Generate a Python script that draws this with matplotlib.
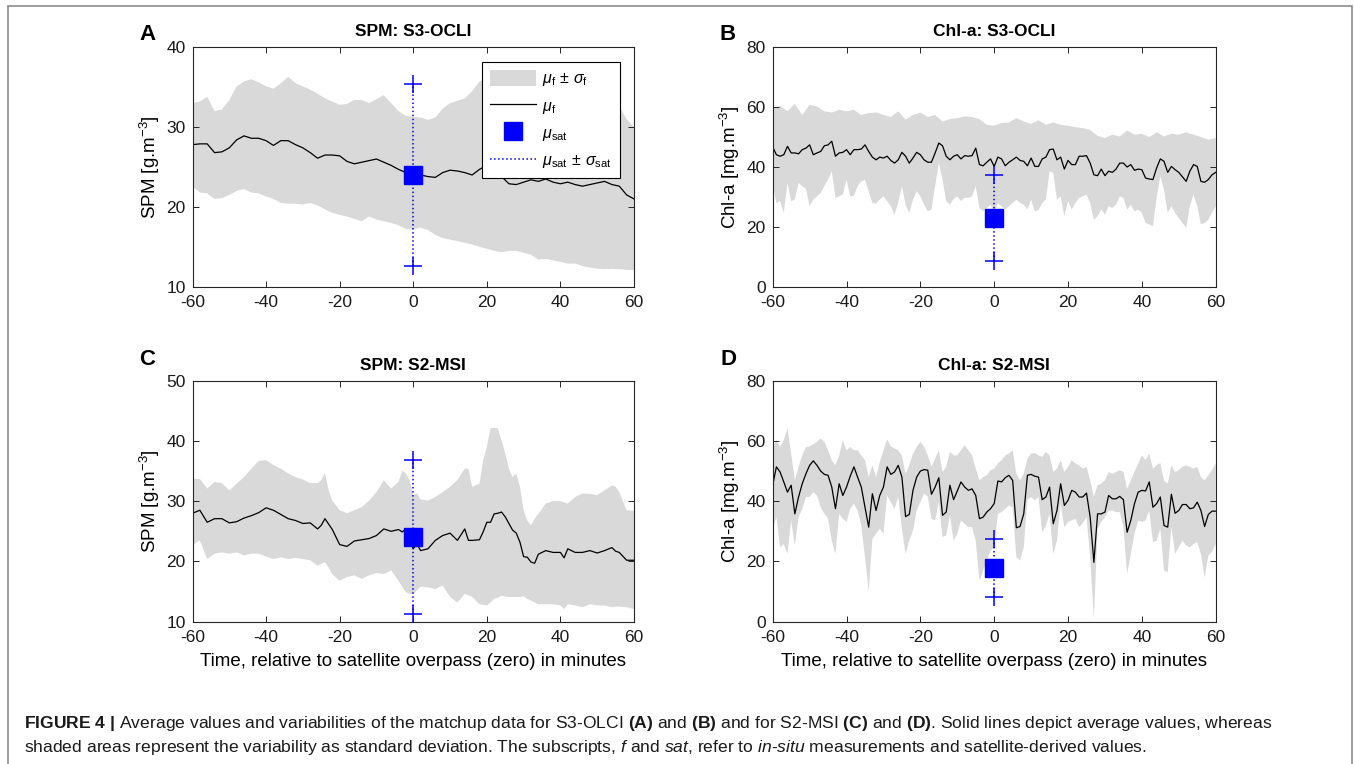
import numpy as np
import matplotlib
matplotlib.use('Agg')
import matplotlib.pyplot as plt
from matplotlib.patches import Patch, Rectangle
from matplotlib.lines import Line2D

plt.rcParams['font.family'] = ['Liberation Sans', 'DejaVu Sans']
plt.rcParams['mathtext.fontset'] = 'custom'
plt.rcParams['mathtext.rm'] = 'Liberation Sans'
plt.rcParams['mathtext.it'] = 'Liberation Sans:italic'
plt.rcParams['mathtext.bf'] = 'Liberation Sans:bold'
plt.rcParams['axes.unicode_minus'] = False

# ---------------- data ----------------
sat_time = 0

# A: SPM, S3-OLCI  (2-minute steps)
t_a = np.arange(-60, 61, 2)
mean_a = [27.8, 27.9, 27.9, 26.8, 26.9, 27.4, 28.4, 28.9, 28.6, 28.6,
          28.3, 27.7, 28.3, 28.3, 27.8, 27.4, 26.8, 26.1, 26.5, 26.5,
          26.4, 25.7, 25.4, 25.6, 25.8, 26.0, 25.6, 25.2, 24.7, 24.3,
          24.0, 24.0, 23.8, 23.7, 24.3, 24.6, 24.5, 24.3, 24.0, 24.7,
          25.2, 25.0, 23.8, 22.9, 22.8, 23.1, 23.4, 23.2, 23.5, 23.1,
          22.9, 23.1, 22.8, 22.6, 22.8, 23.0, 23.2, 22.8, 22.6, 21.5, 21.0]
upper_a = [33.0, 33.2, 33.8, 32.0, 32.2, 33.4, 35.1, 35.7, 36.0, 35.6,
           35.1, 34.8, 35.5, 36.3, 35.5, 35.1, 34.7, 34.2, 33.6, 33.2,
           32.8, 32.9, 33.4, 33.4, 33.0, 33.5, 34.0, 33.0, 32.0, 31.4,
           31.3, 31.2, 30.9, 31.2, 32.3, 33.0, 33.3, 33.6, 34.5, 35.7,
           36.0, 35.4, 35.9, 35.1, 34.6, 35.0, 34.2, 34.5, 33.8, 34.1,
           33.6, 33.9, 33.2, 33.5, 33.0, 33.3, 32.9, 33.2, 32.6, 31.0, 30.0]
lower_a = [22.6, 21.8, 21.7, 21.0, 21.1, 21.5, 22.0, 22.25, 21.8, 21.7,
           21.3, 21.0, 20.5, 20.4, 20.4, 20.3, 20.5, 20.2, 19.7, 19.25,
           19.0, 18.8, 18.5, 18.2, 18.8, 18.4, 18.2, 18.0, 17.7, 17.25,
           17.2, 17.4, 17.1, 16.5, 16.1, 15.9, 15.7, 15.5, 15.3, 15.0,
           14.75, 14.5, 14.3, 14.5, 14.5, 14.25, 14.0, 13.4, 13.5, 13.3,
           13.1, 12.9, 12.9, 12.6, 12.4, 12.25, 12.2, 12.25, 12.2, 12.1, 12.1]
sat_a = (24.0, 11.4)

# B: Chl-a, S3-OLCI (1-minute steps, upper bound every 2 minutes)
t_b = np.arange(-60, 61)
t_b_up = np.arange(-60, 61, 2)
mean_b = [46.7, 44.1, 43.6, 44.1, 46.9, 44.7, 44.7, 44.4, 45.8, 46.3,
          47.4, 44.1, 44.7, 45.2, 47.1, 47.4, 48.6, 43.6, 44.7, 44.9,
          45.8, 44.1, 45.8, 45.8, 46.0, 47.4, 45.2, 43.3, 42.4, 43.3,
          43.0, 43.6, 42.2, 41.3, 42.4, 44.9, 43.6, 41.3, 43.0, 44.9,
          44.1, 42.4, 41.6, 41.6, 44.7, 48.0, 47.1, 43.6, 42.4, 43.6,
          44.1, 42.7, 43.8, 43.6, 43.8, 46.3, 40.8, 40.4, 41.6, 42.7,
          40.2, 43.3, 42.7, 40.4, 41.6, 42.4, 43.3, 42.2, 41.9, 40.4,
          43.0, 40.2, 40.2, 42.7, 43.3, 45.8, 46.0, 42.4, 43.3, 39.3,
          42.2, 40.8, 40.8, 43.6, 43.6, 43.8, 41.3, 37.4, 37.1, 39.3,
          37.1, 38.6, 38.2, 39.3, 41.3, 41.3, 40.0, 40.8, 38.9, 39.3,
          39.1, 36.3, 36.0, 35.8, 39.7, 42.7, 41.9, 38.2, 40.2, 39.1,
          38.2, 36.7, 35.2, 38.6, 40.8, 40.2, 35.2, 34.9, 35.8, 37.4, 38.2]
upper_b = [59.7, 60.4, 58.6, 61.1, 57.4, 60.8, 60.2, 58.6, 58.2, 59.1,
           58.6, 59.1, 57.4, 58.0, 58.2, 57.4, 56.7, 58.6, 55.8, 57.4,
           58.2, 56.7, 57.4, 55.2, 56.0, 56.3, 56.9, 56.7, 56.0, 54.1,
           53.8, 54.7, 54.9, 56.3, 55.2, 54.4, 55.6, 54.1, 54.9, 54.1,
           53.8, 53.3, 53.0, 52.4, 50.4, 49.7, 50.8, 50.2, 52.2, 50.8,
           51.1, 50.0, 51.6, 50.2, 51.1, 50.8, 51.6, 50.8, 50.0, 49.1, 49.7]
lower_b = [34.1, 28.0, 28.6, 24.7, 34.7, 28.6, 29.1, 34.7, 33.6, 32.7,
           26.9, 29.1, 30.2, 31.3, 33.6, 35.8, 38.6, 29.7, 30.2, 30.8,
           35.8, 30.2, 30.4, 33.6, 35.2, 35.8, 31.9, 28.0, 27.8, 29.1,
           30.2, 28.6, 26.9, 24.1, 28.0, 33.6, 27.4, 24.7, 29.1, 31.9,
           30.2, 27.4, 25.2, 25.8, 33.6, 41.3, 35.8, 28.6, 27.4, 29.3,
           30.2, 28.6, 29.7, 29.7, 30.2, 33.6, 26.3, 25.2, 26.3, 27.4,
           24.7, 28.0, 26.9, 25.8, 26.9, 28.0, 29.1, 28.0, 27.4, 25.8,
           29.1, 25.2, 25.6, 28.0, 29.1, 38.6, 38.0, 29.1, 30.2, 23.6,
           28.6, 25.8, 28.0, 29.7, 30.2, 30.8, 28.0, 22.4, 23.6, 25.8,
           24.1, 26.9, 26.3, 27.4, 30.2, 29.7, 25.8, 27.4, 25.2, 25.8,
           24.7, 21.3, 20.8, 20.2, 29.7, 36.9, 32.4, 24.7, 26.9, 24.7,
           23.0, 21.3, 19.7, 26.9, 30.8, 26.9, 20.8, 21.3, 22.4, 24.7, 26.9]
sat_b = (23.0, 14.4)

# C: SPM, S2-MSI (irregular steps)
t_c = [-60, -58, -56, -54, -52, -50, -48, -46, -44, -42,
       -40, -38, -36, -34, -32, -30, -28, -26, -25, -24,
       -23, -22, -20, -18, -16, -14, -12, -10, -8, -6,
       -4, -3, -2, -1, 0, 1, 2, 4, 6, 8,
       10, 12, 14, 15, 16, 18, 19, 20, 21, 22,
       23, 24, 25, 26, 27, 28, 29, 30, 31, 32,
       33, 34, 36, 38, 40, 41, 42, 44, 46, 48,
       50, 52, 54, 55, 56, 58, 60]
mean_c = [28.0, 28.5, 26.5, 27.1, 27.1, 26.4, 26.6, 27.2, 27.6, 28.1,
          28.9, 28.5, 27.8, 27.1, 26.8, 26.3, 26.4, 25.4, 26.0, 27.1,
          26.2, 25.3, 22.8, 22.5, 23.4, 23.6, 23.8, 24.3, 25.4, 25.0,
          25.3, 24.9, 25.4, 23.5, 22.1, 22.9, 21.8, 22.1, 23.5, 24.3,
          24.7, 23.5, 25.4, 23.5, 23.5, 23.6, 24.9, 26.5, 26.5, 27.9,
          28.0, 28.2, 27.4, 26.3, 25.2, 24.7, 23.2, 20.8, 20.7, 19.9,
          19.7, 21.2, 21.8, 21.5, 21.5, 20.6, 22.1, 21.5, 21.5, 21.8,
          21.4, 21.8, 22.3, 21.7, 21.5, 20.2, 20.2]
upper_c = [33.7, 33.7, 32.1, 33.2, 33.0, 31.8, 32.9, 34.0, 35.4, 36.7,
           36.8, 36.0, 35.4, 34.6, 34.0, 33.6, 33.0, 33.0, 33.5, 34.7,
           31.8, 30.1, 28.5, 28.0, 28.5, 29.0, 30.1, 31.5, 33.5, 32.1,
           33.2, 35.1, 34.6, 33.5, 31.0, 31.3, 30.3, 30.1, 30.7, 31.5,
           32.4, 33.5, 35.4, 35.4, 32.4, 32.9, 36.8, 39.0, 42.1, 42.2,
           42.1, 40.1, 37.9, 35.4, 34.0, 34.6, 32.4, 28.5, 26.8, 26.0,
           27.1, 27.9, 29.6, 30.0, 30.0, 29.8, 29.6, 30.7, 31.3, 31.2,
           31.0, 31.8, 32.6, 32.4, 31.5, 28.5, 28.4]
lower_c = [22.7, 23.5, 20.4, 21.3, 21.5, 21.3, 21.5, 21.0, 21.3, 21.3,
           20.8, 20.4, 20.7, 20.4, 20.6, 20.4, 20.2, 19.3, 19.6, 19.9,
           19.0, 17.9, 16.8, 17.4, 17.7, 17.1, 17.7, 18.1, 17.9, 18.5,
           16.8, 15.8, 14.9, 14.6, 14.6, 15.2, 15.8, 15.7, 15.4, 16.0,
           14.1, 13.2, 14.6, 14.4, 14.1, 12.9, 12.8, 12.7, 13.2, 13.8,
           14.0, 14.3, 14.2, 14.1, 14.1, 14.1, 14.1, 14.2, 13.8, 13.5,
           13.2, 12.9, 12.9, 12.9, 12.7, 12.1, 12.9, 12.7, 12.4, 12.9,
           12.7, 12.7, 12.4, 12.5, 12.5, 12.4, 12.1]
sat_c = (24.0, 12.8)

# D: Chl-a, S2-MSI (1-minute steps)
t_d = np.arange(-60, 61)
mean_d = [45.3, 51.4, 49.7, 46.4, 43.0, 45.3, 35.8, 41.4, 45.8, 49.1,
          51.9, 53.4, 51.9, 50.0, 48.9, 48.6, 44.7, 37.5, 45.8, 41.9,
          44.7, 48.3, 51.4, 48.0, 44.7, 38.0, 31.4, 42.5, 36.9, 41.9,
          44.7, 51.4, 48.9, 49.7, 51.9, 48.0, 34.9, 35.6, 43.6, 48.0,
          50.0, 50.5, 50.3, 42.3, 44.7, 47.8, 35.3, 36.4, 45.3, 40.5,
          43.4, 46.4, 44.7, 43.6, 44.1, 41.9, 34.2, 34.7, 36.4, 37.5,
          39.2, 46.7, 46.4, 47.8, 48.6, 46.9, 31.2, 31.6, 35.8, 48.6,
          48.9, 48.3, 48.0, 40.5, 41.4, 44.7, 32.5, 36.9, 45.8, 38.6,
          40.3, 43.6, 43.0, 41.4, 41.4, 42.7, 34.7, 19.7, 35.8, 35.8,
          36.4, 41.9, 40.8, 40.8, 41.6, 40.5, 29.7, 33.6, 39.2, 43.0,
          43.6, 43.4, 46.4, 38.0, 39.2, 41.4, 31.9, 31.4, 42.3, 36.0,
          36.9, 38.9, 38.9, 37.5, 37.8, 39.7, 36.9, 31.6, 35.6, 36.7, 36.7]
upper_d = [58.0, 60.2, 58.0, 60.2, 64.1, 55.8, 46.9, 51.4, 55.2, 58.0,
           58.2, 58.9, 59.7, 60.8, 59.7, 56.9, 53.6, 51.9, 55.2, 60.2,
           56.9, 58.0, 56.9, 56.9, 55.2, 53.6, 48.0, 51.9, 48.0, 53.0,
           56.9, 60.5, 58.2, 57.5, 56.9, 55.2, 49.1, 51.9, 55.8, 58.0,
           59.7, 58.0, 55.2, 51.4, 54.1, 56.9, 49.7, 51.4, 56.4, 55.2,
           55.2, 56.9, 58.6, 56.9, 55.2, 50.8, 46.9, 48.0, 48.6, 50.3,
           50.8, 52.5, 53.6, 55.2, 55.8, 56.9, 49.1, 46.9, 49.1, 54.1,
           55.8, 56.0, 55.2, 54.7, 56.4, 55.2, 49.7, 50.8, 53.6, 49.7,
           51.4, 53.6, 52.5, 51.9, 50.8, 51.4, 46.9, 41.4, 45.3, 45.8,
           46.9, 49.7, 49.1, 49.7, 50.3, 49.7, 44.1, 46.9, 49.7, 52.5,
           55.2, 53.6, 55.8, 50.8, 51.9, 52.7, 46.9, 45.8, 51.9, 49.7,
           50.3, 51.4, 51.9, 51.4, 50.8, 51.4, 48.0, 46.9, 48.6, 50.3, 52.5]
lower_d = [30.8, 34.7, 24.7, 25.8, 22.5, 33.6, 25.3, 34.7, 37.5, 41.4,
           41.4, 43.0, 41.9, 38.0, 35.8, 34.2, 26.9, 22.5, 35.8, 34.2,
           33.1, 37.5, 39.2, 36.9, 31.9, 21.4, 10.1, 27.5, 29.2, 30.8,
           29.2, 41.9, 39.7, 37.5, 41.4, 30.8, 22.5, 26.9, 30.3, 36.9,
           39.7, 42.5, 41.6, 34.2, 33.6, 39.7, 28.1, 28.6, 35.3, 26.9,
           29.2, 33.6, 32.5, 31.4, 31.4, 26.9, 13.6, 17.0, 20.3, 23.6,
           24.7, 35.8, 36.4, 37.5, 38.6, 38.0, 21.4, 20.3, 24.7, 40.5,
           41.4, 40.3, 41.4, 29.7, 31.9, 35.8, 22.5, 26.9, 39.2, 31.4,
           33.1, 33.6, 34.2, 31.4, 32.7, 34.7, 21.4, 0.9, 30.8, 33.1,
           34.7, 36.9, 36.9, 36.4, 36.4, 31.4, 15.9, 22.5, 29.2, 33.6,
           33.1, 33.6, 36.9, 26.4, 26.9, 30.8, 17.0, 16.4, 31.4, 22.5,
           24.7, 26.9, 25.3, 24.7, 25.8, 26.4, 22.5, 14.7, 22.0, 23.1, 25.8]
sat_d = (17.8, 9.5)

xticks = [-60, -40, -20, 0, 20, 40, 60]
xlabel = 'Time, relative to satellite overpass (zero) in minutes'
leg_labels = [r'$\mu_\mathrm{f}\,\pm\,\sigma_\mathrm{f}$', r'$\mu_\mathrm{f}$',
              r'$\mu_\mathrm{sat}$', r'$\mu_\mathrm{sat}\,\pm\,\sigma_\mathrm{sat}$']

SHADE = '#d9d9d9'
BLUE = '#0000ff'
AXC = '#262626'

W, H = 1354, 764
fig = plt.figure(figsize=(W / 100, H / 100), dpi=100)


def px_axes(left, top, right, bottom):
    return fig.add_axes([left / W, 1 - bottom / H, (right - left) / W, (bottom - top) / H])


def draw_panel(ax, t, mean, t_up, up, t_lo, lo, sat, ylim, ystep, title, ylabel, show_xlabel):
    t_up = np.asarray(t_up); t_lo = np.asarray(t_lo)
    ax.fill(np.concatenate([t_up, t_lo[::-1]]),
            np.concatenate([np.asarray(up), np.asarray(lo)[::-1]]),
            color=SHADE, lw=0, zorder=1)
    ax.plot(t, mean, color='k', lw=0.9, zorder=2)
    mu, sd = sat
    ax.plot([sat_time, sat_time], [mu - sd, mu + sd], ls=':', color=BLUE, lw=1.1, zorder=3)
    ax.plot([sat_time, sat_time], [mu - sd, mu + sd], ls='none', marker='+',
            color=BLUE, ms=13, mew=1.1, zorder=4)
    ax.plot([sat_time], [mu], ls='none', marker='s', color=BLUE, ms=13, zorder=5)
    ax.set_xlim(-60, 60)
    ax.set_ylim(*ylim)
    ax.set_xticks(xticks)
    ax.set_yticks(np.arange(ylim[0], ylim[1] + 0.1, ystep))
    ax.tick_params(direction='in', top=True, right=True, length=4.5, width=0.7,
                   color=AXC, labelsize=12.5, labelcolor='#1a1a1a')
    ax.tick_params(axis='x', pad=6)
    ax.tick_params(axis='y', pad=5)
    for s in ax.spines.values():
        s.set_color(AXC)
        s.set_linewidth(0.8)
    ax.set_title(title, fontweight='bold', fontsize=12.5, pad=8)
    ax.set_ylabel(ylabel, fontsize=13.5, labelpad=3)
    if show_xlabel:
        ax.set_xlabel(xlabel, fontsize=13.5, labelpad=6)


ax_a = px_axes(192.5, 47.3, 634, 286.7)
ax_b = px_axes(772.7, 47.3, 1215.7, 286.7)
ax_c = px_axes(192.5, 380.7, 634, 621.7)
ax_d = px_axes(772.7, 380.7, 1215.7, 621.7)

draw_panel(ax_a, t_a, mean_a, t_a, upper_a, t_a, lower_a, sat_a, (10, 40), 10,
           'SPM: S3-OCLI', r'SPM [g.m$^{-3}$]', False)
draw_panel(ax_b, t_b, mean_b, t_b_up, upper_b, t_b, lower_b, sat_b, (0, 80), 20,
           'Chl-a: S3-OCLI', r'Chl-a [mg.m$^{-3}$]', False)
draw_panel(ax_c, t_c, mean_c, t_c, upper_c, t_c, lower_c, sat_c, (10, 50), 10,
           'SPM: S2-MSI', r'SPM [g.m$^{-3}$]', True)
draw_panel(ax_d, t_d, mean_d, t_d, upper_d, t_d, lower_d, sat_d, (0, 80), 20,
           'Chl-a: S2-MSI', r'Chl-a [mg.m$^{-3}$]', True)

handles = [Patch(facecolor=SHADE, edgecolor='none'),
           Line2D([], [], color='k', lw=0.9),
           Line2D([], [], ls='none', marker='s', color=BLUE, ms=13),
           Line2D([], [], ls=':', color=BLUE, lw=1.1)]
leg = ax_a.legend(handles, leg_labels, loc='upper right', bbox_to_anchor=(0.968, 0.94),
                  fancybox=False, edgecolor='k', framealpha=1, fontsize=11.5,
                  handlelength=2.9, handleheight=1.2, labelspacing=0.55,
                  borderpad=0.5, handletextpad=0.4, borderaxespad=0)
leg.get_frame().set_linewidth(0.8)
leg.set_zorder(10)

# panel letters
for letter, (x, y) in zip('ABCD', [(147, 35), (728, 35), (147, 360), (728, 360)]):
    fig.text(x / W, 1 - y / H, letter, fontsize=16, fontweight='bold', ha='center', va='center')

# outer frame
fig.patches.append(Rectangle((8 / W, -0.02), (1352 - 8) / W, 1 - 6 / H + 0.02,
                             transform=fig.transFigure, fill=False, edgecolor='#8c8c8c', lw=1.2))

# caption
cap1 = (r'$\mathbf{FIGURE\ 4\ |}$ Average values and variabilities of the matchup data for S3-OLCI '
        r'$\mathbf{(A)}$ and $\mathbf{(B)}$ and for S2-MSI $\mathbf{(C)}$ and $\mathbf{(D)}$. '
        r'Solid lines depict average values, whereas')
cap2 = (r'shaded areas represent the variability as standard deviation. The subscripts, '
        r'$\mathit{f}$ and $\mathit{sat}$, refer to $\mathit{in}$-$\mathit{situ}$ '
        r'measurements and satellite-derived values.')
fig.text(24 / W, 1 - 728 / H, cap1, fontsize=12.6, va='baseline', ha='left', color='#1a1a1a')
fig.text(24 / W, 1 - 752 / H, cap2, fontsize=12.6, va='baseline', ha='left', color='#1a1a1a')

fig.savefig('out.png', dpi=100)
